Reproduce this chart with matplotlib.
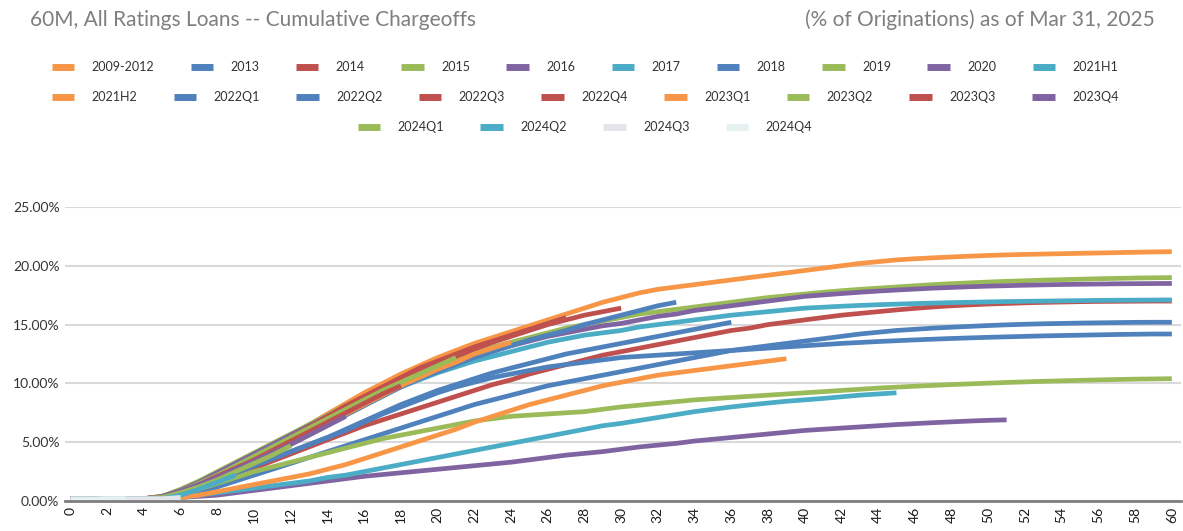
import numpy as np
import matplotlib.pyplot as plt
from matplotlib.lines import Line2D

plt.rcParams['font.family'] = ['Lato', 'DejaVu Sans']

# cumulative chargeoffs (% of originations) by month on book
v2009_2012 = [0.2, 0.2, 0.2, 0.2, 0.2, 0.4, 0.8, 1.4, 2.1, 2.9, 3.8, 4.7, 5.6, 6.5, 7.4, 8.3, 9.2, 10.0, 10.8, 11.5,
              12.2, 12.8, 13.4, 13.9, 14.4, 14.9, 15.4, 15.9, 16.4, 16.9, 17.3, 17.7, 18.0, 18.2, 18.4, 18.6, 18.8,
              19.0, 19.2, 19.4, 19.6, 19.8, 20.0, 20.2, 20.35, 20.5, 20.6, 20.68, 20.75, 20.82, 20.88, 20.93, 20.97,
              21.0, 21.03, 21.06, 21.09, 21.12, 21.15, 21.18, 21.2]
v2013 = [0.2, 0.2, 0.2, 0.2, 0.2, 0.2, 0.4, 0.8, 1.2, 1.7, 2.2, 2.7, 3.2, 3.7, 4.2, 4.7, 5.2, 5.7, 6.2, 6.7, 7.2,
         7.7, 8.2, 8.6, 9.0, 9.4, 9.8, 10.1, 10.4, 10.7, 11.0, 11.3, 11.6, 11.9, 12.2, 12.5, 12.8, 13.0, 13.2, 13.4,
         13.6, 13.8, 14.0, 14.2, 14.35, 14.5, 14.6, 14.7, 14.78, 14.85, 14.92, 14.98, 15.03, 15.07, 15.1, 15.13,
         15.15, 15.17, 15.19, 15.2, 15.2]
v2014 = [0.2, 0.2, 0.2, 0.2, 0.2, 0.3, 0.6, 1.1, 1.6, 2.2, 2.8, 3.4, 4.0, 4.6, 5.2, 5.8, 6.4, 6.9, 7.4, 7.9, 8.4,
         8.9, 9.4, 9.9, 10.3, 10.8, 11.2, 11.6, 12.0, 12.4, 12.7, 13.0, 13.3, 13.6, 13.9, 14.2, 14.5, 14.7, 15.0,
         15.2, 15.4, 15.6, 15.8, 15.95, 16.1, 16.25, 16.38, 16.5, 16.6, 16.68, 16.75, 16.8, 16.85, 16.89, 16.92,
         16.95, 16.97, 16.98, 16.99, 17.0, 17.0]
v2015 = [0.2, 0.2, 0.2, 0.2, 0.2, 0.4, 1.0, 1.7, 2.5, 3.3, 4.1, 4.9, 5.7, 6.5, 7.3, 8.1, 8.8, 9.5, 10.2, 10.9, 11.5,
         12.1, 12.6, 13.1, 13.5, 13.9, 14.3, 14.7, 15.0, 15.3, 15.6, 15.9, 16.1, 16.3, 16.5, 16.7, 16.9, 17.1, 17.3,
         17.45, 17.6, 17.75, 17.88, 18.0, 18.1, 18.2, 18.3, 18.4, 18.48, 18.55, 18.62, 18.68, 18.73, 18.78, 18.82,
         18.86, 18.9, 18.93, 18.96, 18.98, 19.0]
v2016 = [0.2, 0.2, 0.2, 0.2, 0.2, 0.4, 0.9, 1.6, 2.4, 3.2, 4.0, 4.8, 5.6, 6.4, 7.2, 7.9, 8.6, 9.3, 10.0, 10.6, 11.2,
         11.8, 12.3, 12.8, 13.2, 13.6, 14.0, 14.3, 14.6, 14.9, 15.1, 15.4, 15.7, 15.9, 16.2, 16.4, 16.6, 16.8, 17.0,
         17.2, 17.4, 17.52, 17.64, 17.75, 17.85, 17.94, 18.02, 18.1, 18.16, 18.22, 18.27, 18.31, 18.35, 18.38,
         18.41, 18.43, 18.45, 18.47, 18.48, 18.49, 18.5]
v2017 = [0.2, 0.2, 0.2, 0.2, 0.2, 0.3, 0.8, 1.4, 2.1, 2.9, 3.7, 4.5, 5.3, 6.1, 6.9, 7.6, 8.3, 9.0, 9.7, 10.3, 10.9,
         11.4, 11.9, 12.3, 12.7, 13.1, 13.5, 13.8, 14.1, 14.3, 14.5, 14.8, 15.0, 15.2, 15.4, 15.6, 15.8, 15.95,
         16.1, 16.25, 16.4, 16.48, 16.56, 16.63, 16.69, 16.74, 16.79, 16.83, 16.87, 16.9, 16.93, 16.96, 16.98,
         17.0, 17.02, 17.04, 17.06, 17.07, 17.08, 17.09, 17.1]
v2018 = [0.2, 0.2, 0.2, 0.2, 0.2, 0.3, 0.7, 1.2, 1.8, 2.4, 3.0, 3.6, 4.2, 4.8, 5.4, 6.0, 6.7, 7.4, 8.0, 8.6, 9.2,
         9.7, 10.1, 10.5, 10.8, 11.1, 11.4, 11.6, 11.8, 12.0, 12.2, 12.3, 12.4, 12.5, 12.6, 12.7, 12.8, 12.9, 13.0,
         13.1, 13.2, 13.3, 13.4, 13.48, 13.56, 13.63, 13.7, 13.76, 13.82, 13.87, 13.92, 13.96, 14.0, 14.04, 14.07,
         14.1, 14.13, 14.16, 14.18, 14.2, 14.2]
v2019 = [0.2, 0.2, 0.2, 0.2, 0.2, 0.3, 0.6, 1.0, 1.5, 2.0, 2.5, 2.9, 3.3, 3.7, 4.1, 4.5, 4.9, 5.3, 5.6, 5.9, 6.2,
         6.5, 6.8, 7.0, 7.2, 7.3, 7.4, 7.5, 7.6, 7.8, 8.0, 8.15, 8.3, 8.45, 8.6, 8.7, 8.8, 8.9, 9.0, 9.1, 9.2, 9.3,
         9.4, 9.5, 9.6, 9.68, 9.76, 9.83, 9.9, 9.96, 10.02, 10.08, 10.13, 10.18, 10.22, 10.26, 10.3, 10.33, 10.36,
         10.38, 10.4]
v2020 = [0.2, 0.2, 0.2, 0.2, 0.2, 0.2, 0.3, 0.4, 0.5, 0.7, 0.9, 1.1, 1.3, 1.5, 1.7, 1.9, 2.1, 2.25, 2.4, 2.55, 2.7,
         2.85, 3.0, 3.15, 3.3, 3.5, 3.7, 3.9, 4.05, 4.2, 4.4, 4.6, 4.75, 4.9, 5.1, 5.25, 5.4, 5.55, 5.7, 5.85, 6.0,
         6.1, 6.2, 6.3, 6.4, 6.5, 6.58, 6.66, 6.73, 6.8, 6.86, 6.9]
v2021h1 = [0.2, 0.2, 0.2, 0.2, 0.2, 0.2, 0.3, 0.5, 0.7, 0.9, 1.1, 1.3, 1.5, 1.7, 2.0, 2.2, 2.5, 2.8, 3.1, 3.4, 3.7,
           4.0, 4.3, 4.6, 4.9, 5.2, 5.5, 5.8, 6.1, 6.4, 6.6, 6.85, 7.1, 7.35, 7.6, 7.8, 8.0, 8.17, 8.33, 8.48, 8.6,
           8.72, 8.86, 9.0, 9.1, 9.2]
v2021h2 = [0.2, 0.2, 0.2, 0.2, 0.2, 0.2, 0.3, 0.5, 0.8, 1.1, 1.4, 1.7, 2.0, 2.3, 2.7, 3.1, 3.6, 4.1, 4.6, 5.1, 5.6,
           6.1, 6.7, 7.2, 7.7, 8.2, 8.6, 9.0, 9.4, 9.8, 10.1, 10.4, 10.7, 10.9, 11.1, 11.3, 11.5, 11.7, 11.9, 12.1]
v2022q1 = [0.2, 0.2, 0.2, 0.2, 0.2, 0.3, 0.7, 1.2, 1.8, 2.4, 3.0, 3.6, 4.2, 4.8, 5.4, 6.1, 6.8, 7.5, 8.2, 8.8, 9.4,
           9.9, 10.4, 10.9, 11.3, 11.7, 12.1, 12.5, 12.8, 13.1, 13.4, 13.7, 14.0, 14.3, 14.6, 14.9, 15.2]
v2022q2 = [0.2, 0.2, 0.2, 0.2, 0.2, 0.3, 0.8, 1.4, 2.1, 2.8, 3.5, 4.2, 4.9, 5.7, 6.5, 7.3, 8.1, 8.9, 9.7, 10.4,
           11.0, 11.6, 12.2, 12.7, 13.2, 13.7, 14.1, 14.5, 15.0, 15.4, 15.8, 16.2, 16.6, 16.9]
v2022q3 = [0.2, 0.2, 0.2, 0.2, 0.2, 0.3, 0.8, 1.4, 2.1, 2.9, 3.7, 4.5, 5.3, 6.1, 6.9, 7.8, 8.7, 9.5, 10.3, 11.0,
           11.7, 12.3, 12.9, 13.5, 14.0, 14.5, 15.0, 15.4, 15.8, 16.1, 16.4]
v2022q4 = [0.2, 0.2, 0.2, 0.2, 0.2, 0.3, 0.8, 1.4, 2.1, 2.9, 3.7, 4.5, 5.4, 6.3, 7.2, 8.1, 8.9, 9.7, 10.5, 11.3,
           11.9, 12.5, 13.1, 13.6, 14.1, 14.6, 15.1, 15.6]
v2023q1 = [0.2, 0.2, 0.2, 0.2, 0.2, 0.3, 0.7, 1.3, 2.0, 2.7, 3.4, 4.2, 5.0, 5.8, 6.6, 7.4, 8.2, 9.0, 9.8, 10.5,
           11.2, 11.8, 12.5, 13.0, 13.5]
v2023q2 = [0.2, 0.2, 0.2, 0.2, 0.2, 0.3, 0.8, 1.5, 2.2, 3.0, 3.8, 4.6, 5.4, 6.2, 7.0, 7.8, 8.6, 9.4, 10.1, 10.8,
           11.5, 12.2]
v2023q3 = [0.2, 0.2, 0.2, 0.2, 0.2, 0.3, 0.8, 1.4, 2.1, 2.8, 3.5, 4.3, 5.1, 5.9, 6.7, 7.5, 8.3, 9.1, 9.8]
v2023q4 = [0.2, 0.2, 0.2, 0.2, 0.2, 0.3, 0.8, 1.4, 2.0, 2.7, 3.4, 4.1, 4.8, 5.6, 6.4, 7.2]
v2024q1 = [0.2, 0.2, 0.2, 0.2, 0.2, 0.3, 0.7, 1.2, 1.8, 2.5, 3.2, 3.9, 4.7]
v2024q2 = [0.2, 0.2, 0.2, 0.2, 0.2, 0.2, 0.5, 1.0, 1.6, 2.2]
v2024q3 = [0.2, 0.2, 0.2, 0.2, 0.2, 0.2, 0.3]
v2024q4 = [0.1, 0.1, 0.2, 0.2]

series = [v2009_2012, v2013, v2014, v2015, v2016, v2017, v2018, v2019, v2020, v2021h1, v2021h2,
          v2022q1, v2022q2, v2022q3, v2022q4, v2023q1, v2023q2, v2023q3, v2023q4,
          v2024q1, v2024q2, v2024q3, v2024q4]
labels = ['2009-2012', '2013', '2014', '2015', '2016', '2017', '2018', '2019', '2020', '2021H1', '2021H2',
          '2022Q1', '2022Q2', '2022Q3', '2022Q4', '2023Q1', '2023Q2', '2023Q3', '2023Q4',
          '2024Q1', '2024Q2', '2024Q3', '2024Q4']

orange, blue, red, green, purple, teal = '#F79646', '#4F81BD', '#C0504D', '#9BBB59', '#8064A2', '#4BACC6'
colors = [orange, blue, red, green, purple, teal, blue, green, purple, teal, orange,
          blue, blue, red, red, orange, green, red, purple, green, teal, '#E4E4EC', '#E6F1F1']

fig = plt.figure(figsize=(11.83, 5.31), dpi=100)
ax = fig.add_axes([65 / 1183, 1 - 501 / 531, 1116 / 1183, 294 / 531])

for vals, c in zip(series, colors):
    ax.plot(np.arange(len(vals)), vals, color=c, lw=3.4, solid_capstyle='butt', solid_joinstyle='round')

ax.set_xlim(-0.3, 60.5)
ax.set_ylim(0, 25)
ax.set_yticks([0, 5, 10, 15, 20, 25])
ax.set_yticklabels(['%.2f%%' % v for v in [0, 5, 10, 15, 20, 25]], fontsize=10, color='#333333')
ax.set_xticks(np.arange(0, 61, 2))
ax.set_xticklabels([str(m) for m in range(0, 61, 2)], rotation=90, fontsize=10, color='#1a1a1a')
ax.tick_params(length=0, pad=4)
ax.grid(axis='y', color='#d9d9d9', lw=1.5)
ax.set_axisbelow(True)
for s in ['top', 'right', 'left']:
    ax.spines[s].set_visible(False)
ax.spines['bottom'].set_color('#7f7f7f')
ax.spines['bottom'].set_linewidth(2)

fig.text(30 / 1183, 1 - 20 / 531, '60M, All Ratings Loans -- Cumulative Chargeoffs',
         fontsize=15, color='#7f7f7f', va='center', ha='left')
fig.text(1155 / 1183, 1 - 20 / 531, '(% of Originations) as of Mar 31, 2025',
         fontsize=15, color='#7f7f7f', va='center', ha='right')

# legend in three centered rows, like the original
handles = [Line2D([], [], color=c, lw=5, solid_capstyle='butt') for c in colors]
rows = [(0, 10, 67), (10, 19, 97), (19, 23, 127)]
for a, b, ypix in rows:
    fig.legend(handles[a:b], labels[a:b], loc='center', ncol=b - a,
               bbox_to_anchor=(585 / 1183, 1 - ypix / 531), frameon=False,
               fontsize=9, handlelength=1.8, handletextpad=1.4, columnspacing=2.9,
               labelcolor='#333333')

fig.savefig('out.png', dpi=100)
